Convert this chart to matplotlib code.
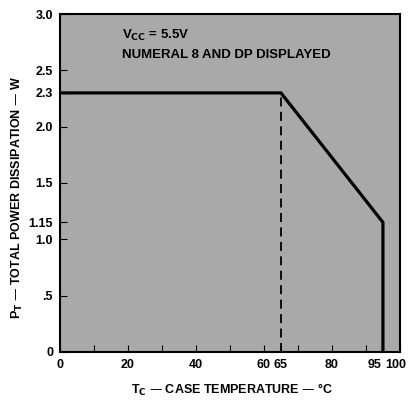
import matplotlib
matplotlib.use("Agg")
import matplotlib.pyplot as plt
from matplotlib.transforms import ScaledTranslation

plt.rcParams['font.family'] = ['Liberation Sans', 'DejaVu Sans']
plt.rcParams['font.weight'] = 'bold'
plt.rcParams['mathtext.default'] = 'bf'

# Derating curve
temp = [0, 65, 95, 95]
power = [2.3, 2.3, 1.15, 0]
knee_temp = 65
knee_power = 2.3

xticks = [0, 20, 40, 60, 65, 80, 95, 100]
xtick_labels = ['0', '20', '40', '60', '65', '80', '95', '100']
xminor = [10, 30, 50, 70, 90]
yticks = [0, 0.5, 1.0, 1.15, 1.5, 2.0, 2.3, 2.5, 3.0]
ytick_labels = ['0', '.5', '1.0', '1.15', '1.5', '2.0', '2.3', '2.5', '3.0']

fig = plt.figure(figsize=(4.14, 4.03), dpi=100)
ax = fig.add_axes([0.145, 0.127, 0.821, 0.838])
ax.set_facecolor('#a9a9a9')

ax.plot(temp, power, color='black', lw=2.3, solid_joinstyle='miter')
ax.plot([knee_temp, knee_temp], [0, knee_power], color='black', lw=1.3,
        linestyle=(0, (5, 3)))

ax.set_xlim(0, 100)
ax.set_ylim(0, 3.0)
ax.set_xticks(xticks)
ax.set_xticklabels(xtick_labels)
ax.set_xticks(xminor, minor=True)
ax.set_yticks(yticks)
ax.set_yticklabels(ytick_labels)
ax.tick_params(axis='both', which='major', direction='in', length=5, width=0.8,
               labelsize=9, pad=5)
ax.tick_params(axis='x', which='minor', direction='in', length=5, width=0.8)
for s in ax.spines.values():
    s.set_linewidth(1.5)

# nudge the crowded right-hand labels left, as in the reference
labels = ax.get_xticklabels()
for lab, dx in zip(labels[-2:], [-8, -4]):
    lab.set_transform(lab.get_transform() + ScaledTranslation(dx / 100, 0, fig.dpi_scale_trans))

ax.text(18.2, 2.81, r'V$_{\mathrm{\mathbf{CC}}}$ = 5.5V', fontsize=9.5, va='center', ha='left')
ax.text(18.2, 2.64, 'NUMERAL 8 AND DP DISPLAYED', fontsize=9.5, va='center', ha='left')

fig.text(232 / 414, 1 - 390 / 403, r'T$_{\mathbf{C}}$ — CASE TEMPERATURE — °C',
         fontsize=9, ha='center', va='center')
fig.text(17 / 414, 1 - 197 / 403, r'P$_{\mathbf{T}}$ — TOTAL POWER DISSIPATION — W',
         fontsize=9, ha='center', va='center', rotation=90)

fig.savefig('out.png', dpi=100)
